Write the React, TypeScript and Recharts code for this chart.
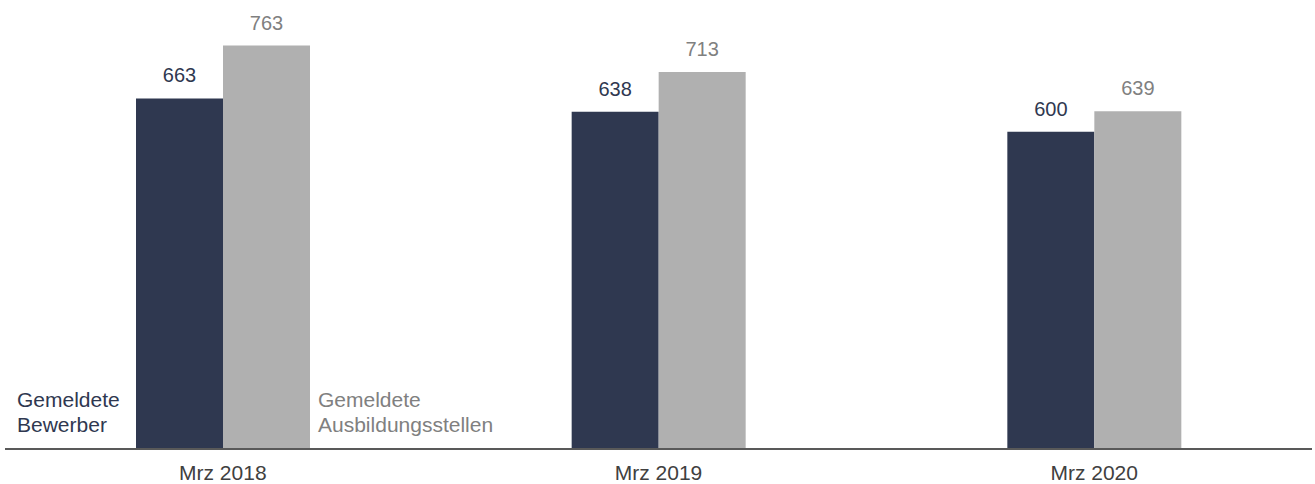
import { Bar, BarChart, LabelList, XAxis, YAxis } from "recharts";

const categories = ["Mrz 2018", "Mrz 2019", "Mrz 2020"];
const bewerber = [663, 638, 600];
const stellen = [763, 713, 639];
const seriesNames = [
  ["Gemeldete", "Bewerber"],
  ["Gemeldete", "Ausbildungsstellen"],
];

const DARK = "#2f3850";
const GREY = "#b0b0b0";
const GREY_TEXT = "#808080";
const FONT = "Arial, 'Liberation Sans', sans-serif";

const data = categories.map((cat, i) => ({
  cat,
  bewerber: bewerber[i],
  stellen: stellen[i],
}));

const SeriesNote = (props: any) => {
  const { x, y, width, height, index, side } = props;
  if (index !== 0) return null;
  const bottom = Number(y) + Number(height);
  const left = side === "left";
  const tx = left ? Number(x) - 119 : Number(x) + Number(width) + 8;
  const lines = left ? seriesNames[0] : seriesNames[1];
  return (
    <text
      x={tx}
      y={bottom - 42}
      fill={left ? DARK : GREY_TEXT}
      fontSize={21}
      fontFamily={FONT}
      textAnchor="start"
    >
      <tspan x={tx} dy={0}>
        {lines[0]}
      </tspan>
      <tspan x={tx} dy={25}>
        {lines[1]}
      </tspan>
    </text>
  );
};

export default function App() {
  return (
    <div style={{ position: "absolute", left: 0, top: 0 }}>
      <BarChart
        width={1315}
        height={484}
        data={data}
        margin={{ top: 26, right: 3, bottom: 0, left: 5 }}
        barGap={0}
        barSize={87}
      >
        <XAxis
          dataKey="cat"
          height={35}
          tickSize={0}
          tickMargin={16}
          tickLine={false}
          axisLine={{ stroke: "#595959", strokeWidth: 2 }}
          tick={{ fill: "#404040", fontSize: 21, fontFamily: FONT }}
        />
        <YAxis hide domain={[0, 800]} />
        <Bar dataKey="bewerber" fill={DARK} isAnimationActive={false}>
          <LabelList
            dataKey="bewerber"
            position="top"
            offset={16}
            fill={DARK}
            fontSize={20}
            fontFamily={FONT}
          />
          <LabelList
            dataKey="bewerber"
            content={(p: any) => <SeriesNote {...p} side="left" />}
          />
        </Bar>
        <Bar dataKey="stellen" fill={GREY} isAnimationActive={false}>
          <LabelList
            dataKey="stellen"
            position="top"
            offset={16}
            fill={GREY_TEXT}
            fontSize={20}
            fontFamily={FONT}
          />
          <LabelList
            dataKey="stellen"
            content={(p: any) => <SeriesNote {...p} side="right" />}
          />
        </Bar>
      </BarChart>
    </div>
  );
}
